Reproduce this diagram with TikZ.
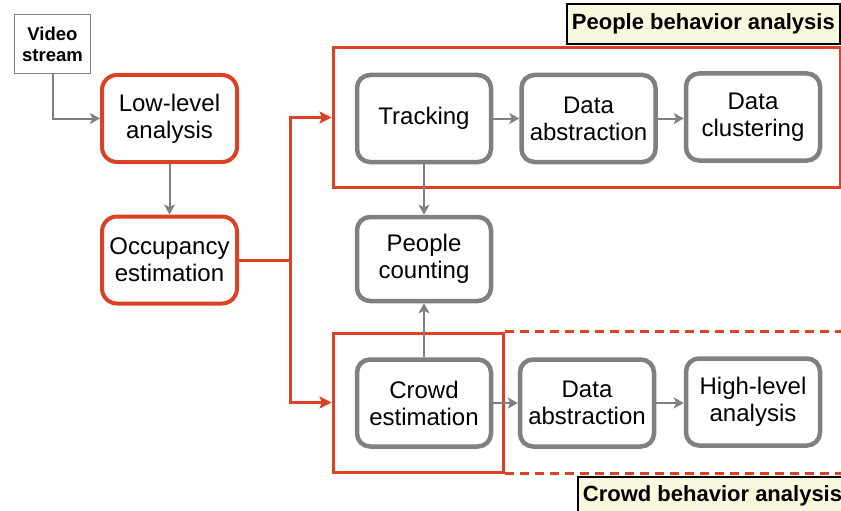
\documentclass[tikz,border=0pt]{standalone}
\usepackage{fontspec}
\setmainfont{Liberation Sans}
\usetikzlibrary{arrows.meta}
\definecolor{flowred}{HTML}{DC4123}
\definecolor{flowgray}{HTML}{808080}
\definecolor{notefill}{HTML}{F8F8DF}
\begin{document}
\begin{tikzpicture}[x=1pt,y=-1pt,
  txt/.style={font=\fontsize{24}{27}\selectfont, align=center, inner sep=0pt},
  redbox/.style={txt, draw=flowred, line width=4pt, rounded corners=15pt, fill=white,
    minimum width=135pt, minimum height=87pt},
  graybox/.style={txt, draw=flowgray, line width=4.5pt, rounded corners=13pt, fill=white,
    minimum width=134pt, minimum height=87pt},
  srcbox/.style={draw=flowgray, line width=1.6pt, fill=white, align=center, inner sep=0pt,
    font=\fontsize{18.5}{21}\selectfont\bfseries, minimum width=76pt, minimum height=59pt},
  groupbox/.style={draw=flowred, line width=3pt, inner sep=0pt},
  notebox/.style={draw=black, line width=1.8pt, fill=notefill, inner xsep=5pt, inner ysep=0pt,
    font=\fontsize{22}{24}\selectfont\bfseries, anchor=west},
  garrow/.style={draw=flowgray, line width=2pt, -{Stealth[length=10pt,width=11pt,inset=2.5pt]}},
  rarrow/.style={draw=flowred, line width=3pt, -{Stealth[length=12pt,width=12pt,inset=2.5pt]}}
]
\useasboundingbox (0,0) rectangle (841,511);

% group frames
\node[groupbox, minimum width=507pt, minimum height=139pt] (pgroup) at (586.5,117.5) {};
\node[groupbox, minimum width=170pt, minimum height=139pt] (cgroup) at (418,402.5) {};
\draw[flowred, line width=3pt, dash pattern=on 9pt off 6pt]
  (cgroup.north east) -- ++(345,0)
  (cgroup.south east) -- ++(345,0);

% group titles
\node[notebox, minimum height=40pt] (ptitle) at (566,24) {People behavior analysis};
\node[notebox, minimum height=38pt] (ctitle) at (577,496) {Crowd behavior analysis};

% processing stages
\node[srcbox] (video) at (52.5,44) {Video\\stream};
\node[redbox] (low) at (169.5,118.5) {Low-level\\analysis};
\node[redbox] (occ) at (169.5,260) {Occupancy\\estimation};

\node[graybox] (trk) at (424,118.5) {Tracking};
\node[graybox] (abs1) at (588.5,118.5) {Data\\abstraction};
\node[graybox] (clu) at (753,117) {Data\\clustering};
\node[graybox, minimum height=84pt] (cnt) at (424,259) {People\\counting};
\node[graybox] (crowd) at (424,403) {Crowd\\estimation};
\node[graybox] (abs2) at (587,403) {Data\\abstraction};
\node[graybox] (high) at (753,402) {High-level\\analysis};

% connectors
\draw[garrow] (video.south) |- (low.west);
\draw[garrow] (low.south) -- (occ.north);

\coordinate (split) at (290,260);
\draw[flowred, line width=3pt] (occ.east) -- (split);
\draw[rarrow] (split) |- (pgroup.west);
\draw[rarrow] (split) |- (cgroup.west);

\draw[garrow] (trk.east) -- (abs1.west);
\draw[garrow] (abs1.east) -- (abs1.east -| clu.west);
\draw[garrow] (trk.south) -- (cnt.north);
\draw[garrow] (crowd.north) -- (cnt.south);
\draw[garrow] (crowd.east) -- (abs2.west);
\draw[garrow] (abs2.east) -- (abs2.east -| high.west);
\end{tikzpicture}
\end{document}
